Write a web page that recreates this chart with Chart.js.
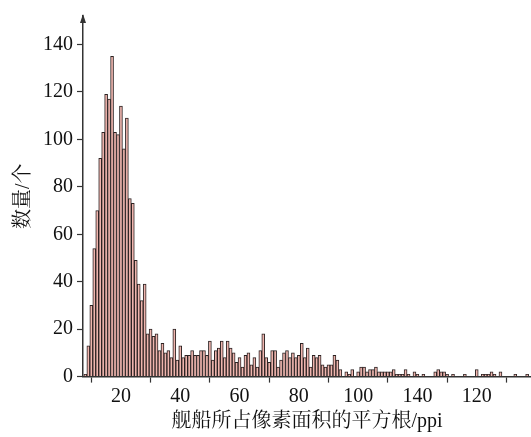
<!DOCTYPE html>
<html>
<head>
<meta charset="utf-8">
<script src="https://cdn.jsdelivr.net/npm/chart.js@4"></script>
<style>
  html, body { margin: 0; padding: 0; background: #fff; }
  #wrap { width: 531px; height: 437px; }
</style>
</head>
<body>
<div id="wrap"><canvas id="histChart" width="531" height="437"></canvas></div>
<script>
// Histogram bins (width 1 ppi), first bin centred on 8
const firstBin = 8;

// counts for bins 8..40
const peakCounts = [1, 13, 30, 54, 70, 92, 103, 119, 117, 135, 103, 102, 114, 96, 109,
  75, 73, 49, 39, 32, 39, 18, 20, 17, 18, 11, 14, 10, 11, 8, 20, 7, 13];
// counts for bins 41..93
const midCounts = [8, 9, 9, 11, 9, 9, 11, 11, 9, 15, 7, 11, 12, 15, 8, 15, 12, 10, 6, 8,
  4, 9, 10, 5, 8, 4, 11, 18, 8, 6, 11, 11, 4, 7, 10, 11, 8, 10, 8, 9,
  14, 8, 12, 4, 9, 8, 9, 5, 4, 5, 5, 9, 7];
// counts for bins 94..157
const tailCounts = [3, 0, 2, 1, 3, 0, 2, 4, 4, 2, 3, 3, 4, 2, 2, 2, 2, 2, 3, 1,
  1, 1, 3, 1, 0, 2, 1, 0, 1, 0, 0, 0, 2, 3, 2, 2, 1, 0, 1, 0,
  0, 0, 1, 0, 0, 0, 3, 0, 1, 1, 1, 2, 1, 0, 2, 0, 0, 0, 0, 1,
  0, 0, 0, 1];

// axis ticks (labels copied as printed in the source figure)
const xTickValues = [20, 40, 60, 80, 100, 120, 140];
const xTickLabels = ["20", "40", "60", "80", "100", "140", "120"];
const yTickValues = [0, 20, 40, 60, 80, 100, 120, 140];

const xTitle = "舰船所占像素面积的平方根/ppi";
const yTitle = "数量/个";

const counts = peakCounts.concat(midCounts, tailCounts);
const points = counts.map((c, i) => ({ x: firstBin + i, y: c }));

const serif = "'Liberation Serif', 'Noto Serif CJK SC', 'Noto Sans CJK SC', serif";
const axisColor = "#333";

// small arrow head on top of the y axis
const axisArrow = {
  id: "axisArrow",
  afterDraw(chart) {
    const { ctx, chartArea } = chart;
    const x = chartArea.left;
    const y = chartArea.top;
    ctx.save();
    ctx.fillStyle = axisColor;
    ctx.beginPath();
    ctx.moveTo(x, y - 2);
    ctx.lineTo(x - 3, y + 7);
    ctx.lineTo(x + 3, y + 7);
    ctx.closePath();
    ctx.fill();
    ctx.restore();
  },
};

new Chart(document.getElementById("histChart"), {
  type: "bar",
  data: {
    datasets: [
      {
        data: points,
        backgroundColor: "#efb5ae",
        borderColor: "#2b2222",
        borderWidth: 1,
        barPercentage: 1,
        categoryPercentage: 1,
      },
    ],
  },
  options: {
    responsive: false,
    animation: false,
    devicePixelRatio: 1,
    layout: { padding: { top: 13, right: 0, left: 0, bottom: 0 } },
    plugins: { legend: { display: false }, tooltip: { enabled: false } },
    scales: {
      x: {
        type: "linear",
        offset: false,
        min: 7.2,
        max: 158.3,
        afterFit: (s) => { s.height = 60.4; },
        afterBuildTicks: (s) => { s.ticks = xTickValues.map((v) => ({ value: v })); },
        ticks: {
          callback: (v, i) => xTickLabels[i],
          font: { family: serif, size: 20 },
          color: "#111",
          padding: 2,
          maxRotation: 0,
          autoSkip: false,
        },
        grid: { drawOnChartArea: false, drawTicks: true, tickLength: 6, tickColor: axisColor, tickWidth: 1.2 },
        border: { color: axisColor, width: 1.5 },
        title: {
          display: true,
          text: xTitle,
          font: { family: serif, size: 20 },
          color: "#111",
          padding: { top: 0, bottom: 3 },
        },
      },
      y: {
        min: 0,
        max: 152,
        afterFit: (s) => { s.width = 83; },
        afterBuildTicks: (s) => { s.ticks = yTickValues.map((v) => ({ value: v })); },
        ticks: {
          font: { family: serif, size: 20 },
          color: "#111",
          padding: 4,
        },
        grid: { drawOnChartArea: false, drawTicks: true, tickLength: 6, tickColor: axisColor, tickWidth: 1.2 },
        border: { color: axisColor, width: 1.5 },
        title: {
          display: true,
          text: yTitle,
          font: { family: serif, size: 20 },
          color: "#111",
          padding: { top: 12, bottom: 0 },
        },
      },
    },
  },
  plugins: [axisArrow],
});
</script>
</body>
</html>
